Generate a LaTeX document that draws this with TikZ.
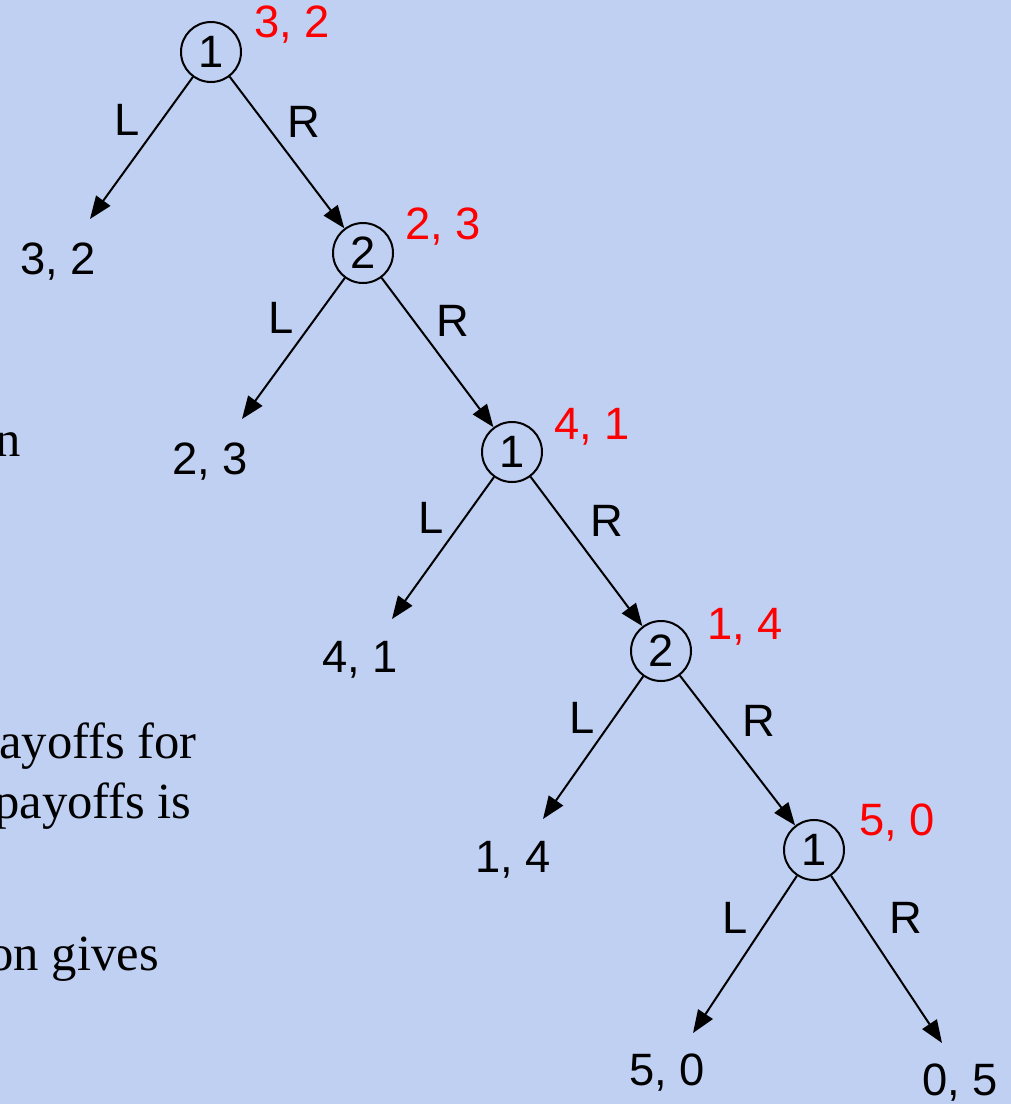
\documentclass[tikz,border=0pt]{standalone}
\usepackage{fontspec}
\setmainfont{Liberation Serif}
\setsansfont{Liberation Sans}
\usetikzlibrary{arrows.meta}
\definecolor{bg}{RGB}{192,208,243}
\definecolor{pay}{RGB}{255,0,0}
\begin{document}
\begin{tikzpicture}[x=0.75pt,y=-0.75pt,
  dec/.style={circle,draw,line width=1.5pt,minimum size=45pt,inner sep=0pt,font=\sffamily\fontsize{34}{34}\selectfont},
  lab/.style={font=\sffamily\fontsize{34}{34}\selectfont,inner sep=0pt},
  red/.style={lab,text=pay},
  edge/.style={line width=1.5pt,-{Triangle[length=17pt,width=13pt]}},
  body/.style={font=\rmfamily\fontsize{38}{38}\selectfont,inner sep=0pt,anchor=base east}]
\useasboundingbox[fill=bg] (0,0) rectangle (1011,1104);
% left text fragments
\node[body] (t1) at (21,456) {n};
\node[body] (t2) at (197,758) {ayoffs for};
\node[body] (t3) at (192,818) {payoffs is};
\node[body] (t4) at (159,970) {on gives};
% decision nodes
\node[dec] (a) at (211,52) {1};
\node[dec] (b) at (363,253) {2};
\node[dec] (c) at (512,452) {1};
\node[dec] (d) at (661,651) {2};
\node[dec] (e) at (814,850) {1};
% leaf arrow tips
\coordinate (ta) at (90,219);
\coordinate (tb) at (242,419);
\coordinate (tc) at (392,619);
\coordinate (td) at (543,819);
\coordinate (te) at (693,1033);
\coordinate (tf) at (942,1043);
% edges
\draw[edge] (a) -- (ta);
\draw[edge] (a) -- (b);
\draw[edge] (b) -- (tb);
\draw[edge] (b) -- (c);
\draw[edge] (c) -- (tc);
\draw[edge] (c) -- (d);
\draw[edge] (d) -- (td);
\draw[edge] (d) -- (e);
\draw[edge] (e) -- (te);
\draw[edge] (e) -- (tf);
% action labels
\node[lab] (la) at (127,120) {L};
\node[lab] (ra) at (304,122) {R};
\node[lab] (lb) at (281,318) {L};
\node[lab] (rb) at (453,321) {R};
\node[lab] (lc) at (431,518) {L};
\node[lab] (rc) at (607,521) {R};
\node[lab] (ld) at (582,718) {L};
\node[lab] (rd) at (759,721) {R};
\node[lab] (le) at (735,918) {L};
\node[lab] (re) at (906,918) {R};
% leaf payoffs
\node[lab] (pa) at (58,262) {3, 2};
\node[lab] (pb) at (210,462) {2, 3};
\node[lab] (pc) at (360,660) {4, 1};
\node[lab] (pd) at (513,860) {1, 4};
\node[lab] (pe) at (667,1073) {5, 0};
\node[lab] (pf) at (960,1083) {0, 5};
% backward induction values
\node[red] (va) at (292,25) {3, 2};
\node[red] (vb) at (443,227) {2, 3};
\node[red] (vc) at (592,427) {4, 1};
\node[red] (vd) at (745,627) {1, 4};
\node[red] (ve) at (897,823) {5, 0};
\end{tikzpicture}
\end{document}
